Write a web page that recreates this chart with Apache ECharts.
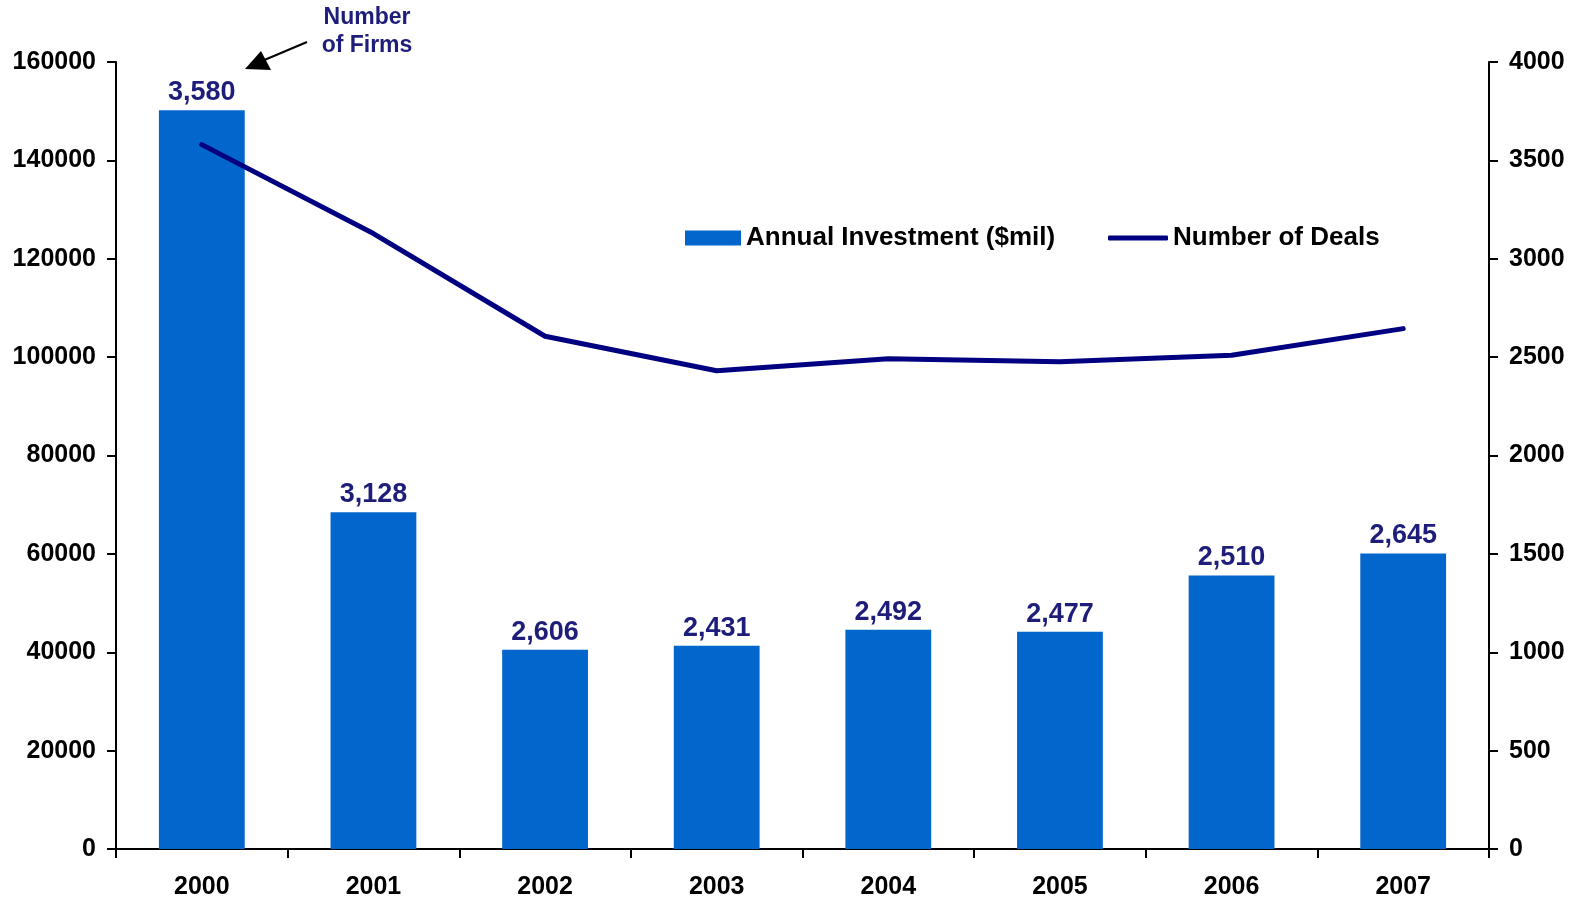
<!DOCTYPE html>
<html>
<head>
<meta charset="utf-8">
<title>Annual Investment and Number of Deals</title>
<script src="https://cdn.jsdelivr.net/npm/echarts@6/dist/echarts.min.js"></script>
<style>
  html, body { margin: 0; padding: 0; background: #ffffff; }
  #chart { width: 1577px; height: 900px; }
</style>
</head>
<body>
<div id="chart"></div>
<script>
// Years on the category axis
const years = ['2000', '2001', '2002', '2003', '2004', '2005', '2006', '2007'];
// Annual investment, $ millions (left axis, bars)
const investment = [150200, 68450, 40500, 41300, 44550, 44150, 55600, 60100];
// Number of deals (right axis, line; also printed above each bar)
const deals = [3580, 3128, 2606, 2431, 2492, 2477, 2510, 2645];
// Axis ranges
const leftMax = 160000, leftStep = 20000;
const rightMax = 4000, rightStep = 500;

const FONT = '"Liberation Sans", Arial, Helvetica, sans-serif';
const NAVY_TEXT = '#1e1e7a';
const LINE_NAVY = '#000080';
const BAR_BLUE = '#0366cc';

const chart = echarts.init(document.getElementById('chart'));

const axisLineStyle = { show: true, lineStyle: { color: '#000', width: 2 } };
const tickStyle = { show: true, length: 9, lineStyle: { color: '#000', width: 2 } };
const axisText = {
  color: '#000', fontFamily: FONT, fontWeight: 'bold', fontSize: 25,
  formatter: v => String(v)
};
const legendText = { color: '#000', fontFamily: FONT, fontWeight: 'bold', fontSize: 26 };

chart.setOption({
  animation: false,
  backgroundColor: '#ffffff',
  grid: { left: 116, right: 88, top: 62, bottom: 50, containLabel: false },
  legend: [
    {
      left: 680,
      top: 220,
      itemWidth: 56,
      itemHeight: 15,
      textStyle: legendText,
      data: [{ name: 'Annual Investment ($mil)', icon: 'rect' }]
    },
    {
      left: 1103,
      top: 220,
      itemWidth: 60,
      itemHeight: 5,
      textStyle: legendText,
      data: [{ name: 'Number of Deals', icon: 'roundRect' }]
    }
  ],
  xAxis: {
    type: 'category',
    data: years,
    boundaryGap: true,
    axisLine: axisLineStyle,
    axisTick: tickStyle,
    axisLabel: Object.assign({}, axisText, { margin: 26 }),
    splitLine: { show: false }
  },
  yAxis: [
    {
      type: 'value',
      min: 0, max: leftMax, interval: leftStep,
      position: 'left',
      axisLine: axisLineStyle,
      axisTick: tickStyle,
      axisLabel: Object.assign({}, axisText, { margin: 20 }),
      splitLine: { show: false }
    },
    {
      type: 'value',
      min: 0, max: rightMax, interval: rightStep,
      position: 'right',
      axisLine: axisLineStyle,
      axisTick: tickStyle,
      axisLabel: Object.assign({}, axisText, { margin: 20 }),
      splitLine: { show: false }
    }
  ],
  series: [
    {
      name: 'Annual Investment ($mil)',
      type: 'bar',
      data: investment,
      yAxisIndex: 0,
      barCategoryGap: '50%',
      itemStyle: { color: BAR_BLUE },
      label: {
        show: true,
        position: 'top',
        distance: 4,
        color: NAVY_TEXT,
        fontFamily: FONT,
        fontWeight: 'bold',
        fontSize: 27,
        formatter: p => deals[p.dataIndex].toLocaleString('en-US')
      },
      z: 2
    },
    {
      name: 'Number of Deals',
      type: 'line',
      data: deals,
      yAxisIndex: 1,
      symbol: 'none',
      smooth: false,
      lineStyle: { color: LINE_NAVY, width: 5, cap: 'round', join: 'round' },
      itemStyle: { color: LINE_NAVY },
      z: 3
    }
  ],
  graphic: [
    {
      type: 'text',
      style: {
        x: 367, y: 32,
        text: 'Number\nof Firms',
        align: 'center',
        verticalAlign: 'middle',
        lineHeight: 28,
        fill: NAVY_TEXT,
        font: 'bold 23px ' + FONT
      }
    },
    {
      type: 'line',
      shape: { x1: 307, y1: 42, x2: 262, y2: 61 },
      style: { stroke: '#000', lineWidth: 2 }
    },
    {
      type: 'polygon',
      shape: { points: [[245, 69], [261, 51], [271, 70]] },
      style: { fill: '#000' }
    }
  ]
});
</script>
</body>
</html>
